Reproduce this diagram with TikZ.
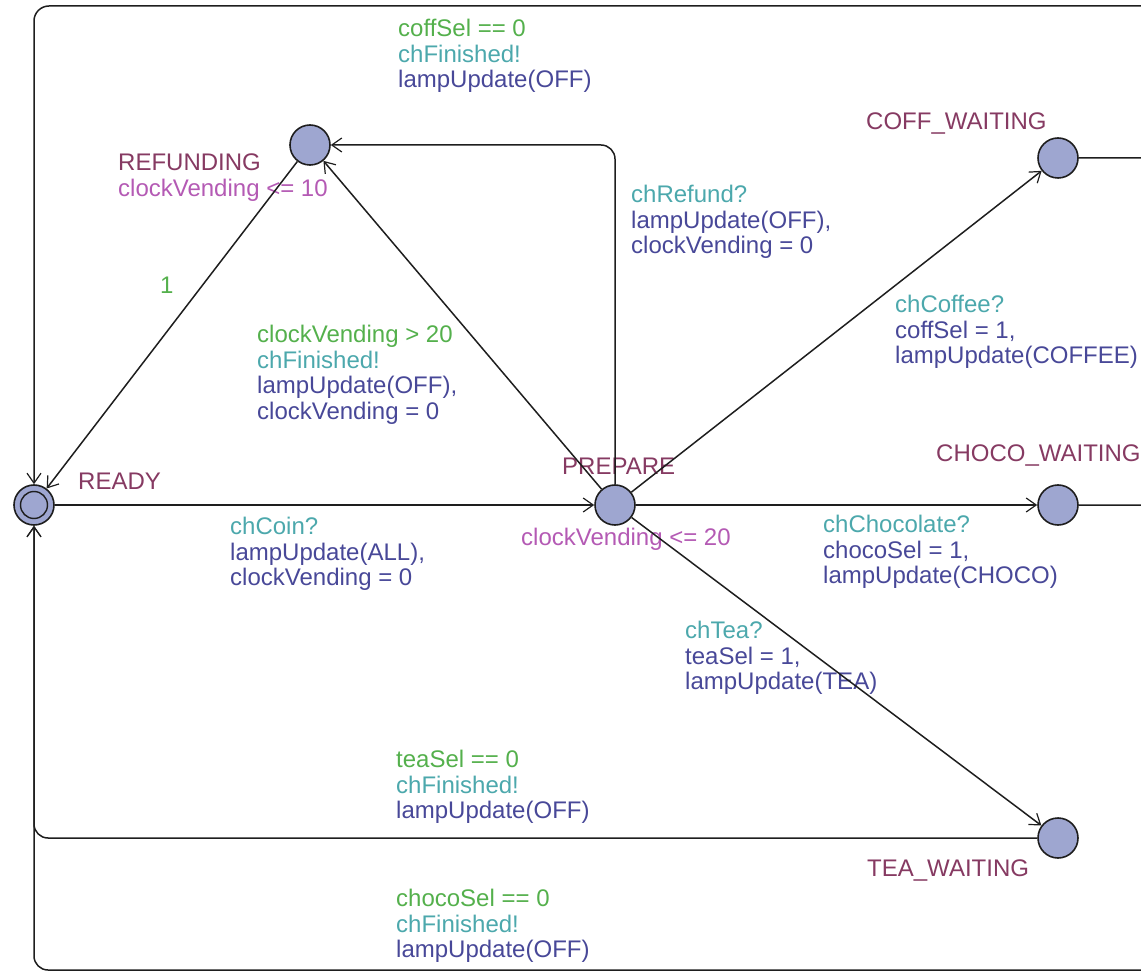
\documentclass[tikz,border=0pt]{standalone}
\usepackage{fontspec}
\setmainfont{Liberation Sans}
\usetikzlibrary{arrows.meta}
\definecolor{locname}{RGB}{134,58,98}
\definecolor{invcol}{RGB}{180,90,180}
\definecolor{guardcol}{RGB}{84,176,76}
\definecolor{synccol}{RGB}{76,168,172}
\definecolor{updcol}{RGB}{72,72,152}
\definecolor{statefill}{RGB}{158,166,208}
\definecolor{edgecol}{RGB}{30,30,30}
\newcommand{\grd}[1]{\textcolor{guardcol}{#1}}
\newcommand{\snc}[1]{\textcolor{synccol}{#1}}
\newcommand{\upd}[1]{\textcolor{updcol}{#1}}
\newcommand{\inv}[1]{\textcolor{invcol}{#1}}
\begin{document}
\begin{tikzpicture}[x=1pt,y=-1pt,
  state/.style={circle, draw=edgecol, line width=1.6pt, fill=statefill,
                minimum size=40pt, inner sep=0pt},
  innerring/.style={circle, draw=edgecol, line width=1.4pt,
                minimum size=27pt, inner sep=0pt},
  edge/.style={draw=edgecol, line width=1.5pt,
               -{Straight Barb[length=10pt,width=14pt,line width=1.2pt]}},
  lbl/.style={anchor=north west, inner sep=0pt, align=left,
              font=\fontsize{24}{25.5}\selectfont},
  locstyle/.style={lbl, text=locname}]
\useasboundingbox (0,0) rectangle (1141,973);
\clip (0,0) rectangle (1141,973);

% locations
\node[state] (refund) at (310,145) {};
\node[state] (ready)  at (34,505)  {};
\node[innerring] (readyin) at (34,505) {};
\node[state] (prep)   at (615,505) {};
\node[state] (coff)   at (1058,158) {};
\node[state] (choco)  at (1058,505) {};
\node[state] (tea)    at (1058,838) {};

% location names and invariants
\node[locstyle] (nrefund) at (118,154) {REFUNDING\\\inv{clockVending <= 10}};
\node[locstyle] (nready)  at (78,473)  {READY};
\node[locstyle] (nprep)   at (562,458) {PREPARE};
\node[lbl] (iprep)        at (521,528) {\inv{clockVending <= 20}};
\node[locstyle] (ncoff)   at (866,113) {COFF\_WAITING};
\node[locstyle] (nchoco)  at (936,445) {CHOCO\_WAITING};
\node[locstyle] (ntea)    at (867,860) {TEA\_WAITING};

% transition labels
\node[lbl] (lcoffback) at (398,19)
  {\grd{coffSel == 0}\\\snc{chFinished!}\\\upd{lampUpdate(OFF)}};
\node[lbl] (lrefund) at (631,185)
  {\snc{chRefund?}\\\upd{lampUpdate(OFF),}\\\upd{clockVending = 0}};
\node[lbl] (lone) at (160,277) {\grd{1}};
\node[lbl] (ltimeout) at (257,325)
  {\grd{clockVending > 20}\\\snc{chFinished!}\\\upd{lampUpdate(OFF),}\\\upd{clockVending = 0}};
\node[lbl] (lcoffee) at (895,295)
  {\snc{chCoffee?}\\\upd{coffSel = 1,}\\\upd{lampUpdate(COFFEE)}};
\node[lbl] (lcoin) at (230,517)
  {\snc{chCoin?}\\\upd{lampUpdate(ALL),}\\\upd{clockVending = 0}};
\node[lbl] (lchoco) at (823,515)
  {\snc{chChocolate?}\\\upd{chocoSel = 1,}\\\upd{lampUpdate(CHOCO)}};
\node[lbl] (ltea) at (685,621)
  {\snc{chTea?}\\\upd{teaSel = 1,}\\\upd{lampUpdate(TEA)}};
\node[lbl] (lteaback) at (396,750)
  {\grd{teaSel == 0}\\\snc{chFinished!}\\\upd{lampUpdate(OFF)}};
\node[lbl] (lchocoback) at (396,889)
  {\grd{chocoSel == 0}\\\snc{chFinished!}\\\upd{lampUpdate(OFF)}};

% route corners
\coordinate (cTR) at (1175,6);
\coordinate (cTL) at (34,6);
\coordinate (cBR) at (1175,970);
\coordinate (cBL) at (34,970);
\coordinate (cTea) at (34,838);
\coordinate (cRef) at (615,145);

% transitions
\draw[edge] (ready) -- (prep);
\draw[edge] (prep) -- (refund);
\draw[edge, rounded corners=14pt] (prep) -- (cRef) -- (refund);
\draw[edge] (refund) -- (ready);
\draw[edge] (prep) -- (coff);
\draw[edge] (prep) -- (choco);
\draw[edge] (prep) -- (tea);
\draw[edge, rounded corners=15pt] (coff) -- (coff -| cTR) -- (cTR) -- (cTL) -- (ready);
\draw[edge, rounded corners=14pt] (choco) -- (choco -| cBR) -- (cBR) -- (cBL) -- (ready);
\draw[edge, rounded corners=14pt] (tea) -- (cTea) -- (ready);
\end{tikzpicture}
\end{document}
